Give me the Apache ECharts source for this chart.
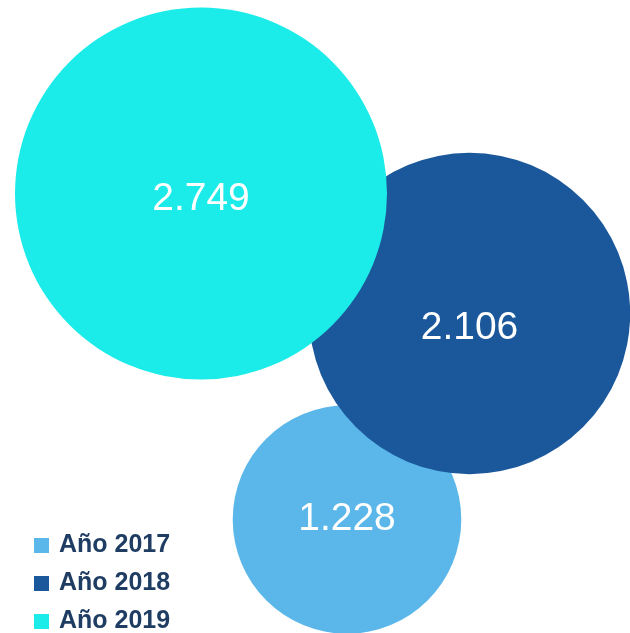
<!DOCTYPE html>
<html>
<head>
<meta charset="utf-8">
<script src="https://cdn.jsdelivr.net/npm/echarts@6/dist/echarts.min.js"></script>
<style>html,body{margin:0;padding:0;background:#fff}#c{width:630px;height:633px}</style>
</head>
<body>
<div id="c"></div>
<script>
// Data
const years = ['Año 2017', 'Año 2018', 'Año 2019'];
const values = [1228, 2106, 2749];
const posX = [347, 469.5, 201];
const posY = [519.5, 313.5, 193.5];
const labels = ['1.228', '2.106', '2.749'];

const colors = ['#5bb7ea', '#1b589b', '#1bebe9'];
const labelOffsets = [[0, 0], [0, 15], [0, 6]];

function diameter(v) { return 108.55 * Math.pow(v, 0.25) - 414; }

const series = years.map((name, i) => ({
  name: name,
  type: 'scatter',
  z: 2 + i,
  data: [[posX[i], posY[i], values[i]]],
  symbol: 'circle',
  symbolSize: d => diameter(d[2]),
  itemStyle: { color: colors[i], opacity: 1 },
  label: {
    show: true,
    position: 'inside',
    offset: labelOffsets[i],
    formatter: () => labels[i],
    color: '#ffffff',
    fontSize: 39,
    fontFamily: 'Liberation Sans, Arial, sans-serif'
  },
  emphasis: { disabled: true },
  animation: false
}));

const legends = years.map((name, i) => ({
  orient: 'vertical',
  left: 34,
  top: 533 + 38 * i,
  padding: 0,
  itemWidth: 15,
  itemHeight: 15,
  icon: 'rect',
  selectedMode: false,
  data: [name],
  textStyle: {
    color: '#1f3d63',
    fontSize: 25,
    lineHeight: 24,
    fontWeight: 'bold',
    fontFamily: 'Liberation Sans, Arial, sans-serif',
    padding: [0, 0, 0, 5]
  }
}));

const chart = echarts.init(document.getElementById('c'));
chart.setOption({
  animation: false,
  grid: { left: 0, right: 0, top: 0, bottom: 0 },
  xAxis: { type: 'value', min: 0, max: 630, show: false },
  yAxis: { type: 'value', min: 0, max: 633, inverse: true, show: false },
  legend: legends,
  series: series
});
</script>
</body>
</html>
